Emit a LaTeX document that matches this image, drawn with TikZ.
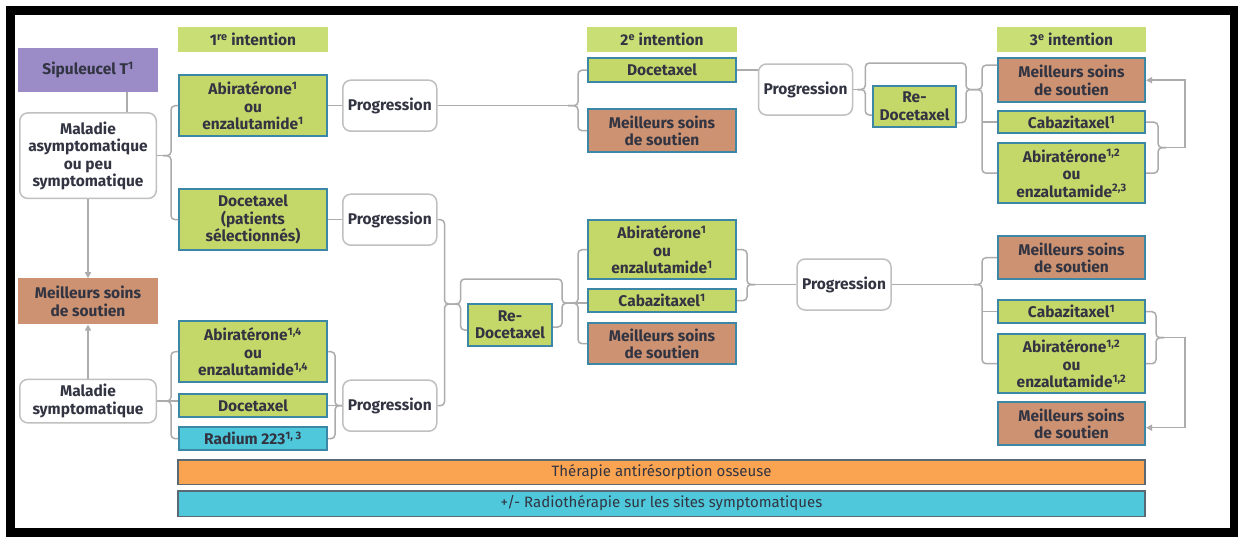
\documentclass[tikz,border=0pt]{standalone}
\usepackage{fontspec}
\setmainfont{Fira Sans}
\usetikzlibrary{calc}
\usetikzlibrary{positioning,arrows.meta}

\definecolor{vert}{RGB}{196,216,106}
\definecolor{vertclair}{RGB}{202,222,118}
\definecolor{brun}{RGB}{204,146,114}
\definecolor{mauve}{RGB}{155,140,200}
\definecolor{turquoise}{RGB}{78,200,218}
\definecolor{orangebar}{RGB}{250,163,80}
\definecolor{bordbleu}{RGB}{60,135,165}
\definecolor{bordgris}{RGB}{192,192,192}
\definecolor{bordbarre}{RGB}{90,105,115}
\definecolor{lien}{RGB}{172,172,172}
\definecolor{encre}{RGB}{50,52,66}

\begin{document}
\begin{tikzpicture}[x=1pt,y=-1pt,
    font=\fontsize{15.5}{17.5}\selectfont\bfseries,
    box/.style={rectangle, align=center, inner sep=0pt, text=encre},
    trait/.style={box, draw=bordbleu, line width=2pt},
    gbox/.style={trait, fill=vert, minimum width=148pt},
    bbox/.style={trait, fill=brun, minimum width=148pt, minimum height=43pt},
    prog/.style={box, draw=bordgris, line width=1.5pt, fill=white, rounded corners=8pt, minimum width=94pt, minimum height=51pt},
    intent/.style={box, fill=vertclair, minimum width=150pt, minimum height=25pt},
    barre/.style={box, draw=bordbarre, line width=1.5pt, minimum width=967pt, minimum height=24.5pt, font=\fontsize{15}{17}\selectfont\mdseries},
    link/.style={draw=lien, line width=1.5pt},
    arm/.style={link, rounded corners=4pt},
    fleche/.style={link, -{Triangle[length=6pt,width=6pt]}}]

    \useasboundingbox (0,0) rectangle (1238,536);
    \fill[white] (0,0) rectangle (1238,536);
    \draw[line width=9pt] (10,10) rectangle (1234,532);

    %% Headers
    \node[intent] (I1) at (253,39.5) {1\textsuperscript{re} intention};
    \node[intent] (I2) at (662,39.5) {2\textsuperscript{e} intention};
    \node[intent, minimum width=149pt] (I3) at (1071.5,39.5) {3\textsuperscript{e} intention};

    %% Left column
    \node[box, fill=mauve, minimum width=140pt, minimum height=44pt] (ST) at (88,70) {Sipuleucel T\textsuperscript{1}};
    \node[prog, minimum width=136.5pt, minimum height=85.5pt, below=20pt of ST] (MA) {Maladie\\asymptomatique\\ou peu\\symptomatique};
    \node[box, fill=brun, minimum width=140pt, minimum height=46pt, below=79pt of MA] (BSC) {Meilleurs soins\\de soutien};
    \node[prog, minimum width=136.5pt, minimum height=43.5pt, below=54pt of BSC] (MS) {Maladie\\symptomatique};

    \draw[link] ($(ST.south)+(39,0)$) -- ($(MA.north)+(39,0)$);
    \draw[fleche] (MA) -- (BSC);
    \draw[fleche] (MS) -- (BSC);

    %% 1re intention
    \node[gbox, minimum height=61pt, below=22pt of I1] (AE1) {Abiratérone\textsuperscript{1}\\ou\\enzalutamide\textsuperscript{1}};
    \node[gbox, minimum height=61pt, below=51pt of AE1] (DP) {Docetaxel\\(patients\\sélectionnés)};
    \node[gbox, minimum height=61pt, below=69pt of DP] (AE2) {Abiratérone\textsuperscript{1,4}\\ou\\enzalutamide\textsuperscript{1,4}};
    \node[gbox, minimum height=23pt, below=10pt of AE2] (D1) {Docetaxel};
    \node[trait, fill=turquoise, minimum width=148pt, minimum height=23pt, below=8pt of D1] (RA) {Radium 223\textsuperscript{1, 3}};

    \coordinate (j1) at ($(MA.east)+(6,0)$);
    \draw[link] (MA) -- (j1);
    \draw[arm] (j1) -- ++(8,0) |- (AE1.west);
    \draw[arm] (j1) -- ++(8,0) |- (DP.west);

    \coordinate (j2) at ($(MS.east)+(6,0)$);
    \draw[link] (MS) -- (j2) -- (j2 -| D1.west);
    \draw[arm] (j2) -- ++(8,0) |- (AE2.west);
    \draw[arm] (j2) -- ++(8,0) |- (RA.west);

    %% Progression
    \node[prog, right=14pt of AE1] (P1) {Progression};
    \node[prog, right=14pt of DP] (P2) {Progression};
    \node[prog, right=14pt of D1] (P3) {Progression};

    \draw[link] (AE1.east) -- (AE1.east -| P1.west);
    \draw[link] (DP.east) -- (DP.east -| P2.west);
    \coordinate (j3) at (P3.west);
    \draw[link] (D1) -- (j3);
    \draw[arm] (j3) -- ++(-7,0) |- (AE2.east);
    \draw[arm] (j3) -- ++(-7,0) |- (RA.east);

    %% Re-Docetaxel (1)
    \node[gbox, minimum width=84pt, minimum height=42pt] (RD1) at (510,325) {Re-\\Docetaxel};

    %% 2e intention
    \node[gbox, minimum height=24pt, below=5pt of I2] (D2) {Docetaxel};
    \node[bbox, below=25pt of D2] (BSC2) {Meilleurs soins\\de soutien};
    \node[gbox, minimum height=59pt, below=66pt of BSC2] (AE3) {Abiratérone\textsuperscript{1}\\ou\\enzalutamide\textsuperscript{1}};
    \node[gbox, minimum height=23pt, below=8pt of AE3] (CA1) {Cabazitaxel\textsuperscript{1}};
    \node[bbox, minimum height=41pt, below=9pt of CA1] (BSC3) {Meilleurs soins\\de soutien};

    \coordinate (j0) at ($(D2.west |- P1.east)+(-19,0)$);
    \draw[link] (P1) -- (j0);
    \draw[arm] (j0) -- ++(10,0) |- (D2.west);
    \draw[arm] (j0) -- ++(10,0) |- (BSC2.west);

    \coordinate (j4) at ($(P2.east |- RD1.north)+(15,1)$);
    \coordinate (j5) at ($(AE3.west |- CA1.west)+(-17,2.5)$);
    \draw[arm] (j4) -- ++(-8,0) |- (P2.east);
    \draw[arm] (j4) -- ++(-8,0) |- (P3.east);
    \draw[arm] (j4) -- ++(8,0) |- ($(RD1.west)+(0,5)$);
    \draw[arm] (j4) -- ++(8,0) |- ($(RD1.north)+(0,-24)$) -| ($(j5)+(-8,0)$) -- (j5);
    \draw[arm] (j5) -- ++(-8,0) |- ($(RD1.east)+(0,2)$);
    \draw[arm] (j5) -- ++(8,0) |- (AE3.west);
    \draw[arm] (j5) -- ++(8,0) |- (BSC3.west);
    \draw[link] (j5) -- (j5 -| CA1.west);

    %% Progression after 2e intention
    \node[prog] (P4) at (805.5,89.5) {Progression};
    \node[gbox, minimum width=83pt, minimum height=41pt] (RD2) at (914.5,106.5) {Re-\\Docetaxel};
    \node[prog] (P5) at (844,284.5) {Progression};

    \draw[link] (D2.east) -- (D2.east -| P4.west);
    \coordinate (j6) at ($(AE3.east |- P5.west)+(18,0)$);
    \draw[arm] (j6) -- ++(-8,0) |- (AE3.east);
    \draw[arm] (j6) -- ++(-8,0) |- (CA1.east);
    \draw[link] (j6) -- (P5.west);

    %% 3e intention
    \node[bbox, minimum width=147pt, minimum height=44pt, below=5pt of I3] (BSC4) {Meilleurs soins\\de soutien};
    \node[gbox, minimum width=147pt, minimum height=22pt, below=7pt of BSC4] (CA2) {Cabazitaxel\textsuperscript{1}};
    \node[gbox, minimum width=147pt, minimum height=60pt, below=8pt of CA2] (AE4) {Abiratérone\textsuperscript{1,2}\\ou\\enzalutamide\textsuperscript{2,3}};
    \node[bbox, minimum width=147pt, minimum height=43pt, below=31pt of AE4] (BSC5) {Meilleurs soins\\de soutien};
    \node[gbox, minimum width=147pt, minimum height=23pt, below=19pt of BSC5] (CA3) {Cabazitaxel\textsuperscript{1}};
    \node[gbox, minimum width=147pt, minimum height=59pt, below=9pt of CA3] (AE5) {Abiratérone\textsuperscript{1,2}\\ou\\enzalutamide\textsuperscript{1,2}};
    \node[bbox, minimum width=147pt, minimum height=43pt, below=7pt of AE5] (BSC6) {Meilleurs soins\\de soutien};

    %% top branch, with or without Re-Docetaxel
    \coordinate (j7) at ($(P4.east)+(4,0)$);
    \coordinate (j8) at ($(BSC4.west |- P4.east)+(-23,0)$);
    \coordinate (j8v) at ($(j8)+(8,0)$);
    \draw[link] (P4) -- (j7);
    \draw[arm] (j7) -- ++(8,0) |- ($(RD2.north)+(0,-22)$) -| ($(j8)+(-8,0)$) -- (j8);
    \draw[arm] (j7) -- ++(8,0) |- ($(RD2.west)+(0,8.5)$);
    \draw[arm] (j8) -- ++(-8,0) |- ($(RD2.east)+(0,16)$);
    \draw[arm] (j8) -- ++(8,0) |- ($(BSC4.west)+(0,-15)$);
    \draw[arm] (j8) -- ++(8,0) |- (AE4.west);
    \draw[link] (CA2.west) -- (CA2.west -| j8v);

    \coordinate (j11) at ($(CA2.east)!0.5!(AE4.east)+(20,0)$);
    \draw[arm] (j11) -- ++(-8,0) |- (CA2.east);
    \draw[arm] (j11) -- ++(-8,0) |- (AE4.east);
    \draw[fleche] (j11) -- ++(19,0) |- (BSC4.east);

    %% bottom branch
    \coordinate (j9) at ($(BSC5.west |- P5.east)+(-23,0)$);
    \coordinate (j9v) at ($(j9)+(8,0)$);
    \draw[link] (P5) -- (j9);
    \draw[arm] (j9) -- ++(8,0) |- (BSC5.west);
    \draw[arm] (j9) -- ++(8,0) |- (AE5.west);
    \draw[link] (CA3.west) -- (CA3.west -| j9v);

    \coordinate (j10) at ($(CA3.east)!0.5!(AE5.east)+(18,0)$);
    \draw[arm] (j10) -- ++(-8,0) |- (CA3.east);
    \draw[arm] (j10) -- ++(-8,0) |- (AE5.east);
    \draw[fleche] (j10) -- ++(21,0) |- ($(BSC6.east)+(0,4)$);

    %%%%%%%%%%%%%%%%%%%%%%%%%
    %% Bars at the bottom
    \node[barre, fill=orangebar] (TH) at (661.5,472) {Thérapie antirésorption osseuse};
    \node[barre, fill=turquoise, minimum height=25.5pt, below=5pt of TH] (RT) {+/- Radiothérapie sur les sites symptomatiques};
\end{tikzpicture}
\end{document}
